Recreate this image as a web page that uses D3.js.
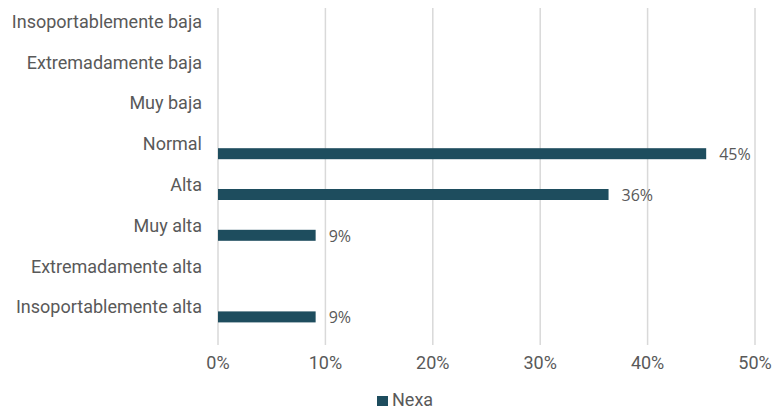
<!DOCTYPE html>
<html>
<head>
<meta charset="utf-8">
<script src="https://cdn.jsdelivr.net/npm/d3@7"></script>
<style>
  body { margin: 0; background: #fff; }
  svg text { font-family: Roboto, "Noto Sans", sans-serif; fill: #595959; }
</style>
</head>
<body>
<svg width="772" height="412"></svg>
<script>
// data ======================================================
var categories = ["Insoportablemente baja", "Extremadamente baja", "Muy baja", "Normal",
                  "Alta", "Muy alta", "Extremadamente alta", "Insoportablemente alta"];
var nexa = [0, 0, 0, 5 / 11, 4 / 11, 1 / 11, 0, 1 / 11];
var ticks = [0, 0.1, 0.2, 0.3, 0.4, 0.5];
var seriesName = "Nexa";

var barColor = "#1e4d5e";

var svg = d3.select("svg");

var x = d3.scaleLinear().domain([0, 0.5]).range([218, 755]);
var y = d3.scaleBand().domain(categories).range([0.9, 327.3]);
var mid = function(c) { return y(c) + y.bandwidth() / 2; };

// grid lines
svg.append("g").selectAll("line")
  .data(ticks)
  .enter().append("line")
    .attr("x1", function(d) { return x(d); })
    .attr("x2", function(d) { return x(d); })
    .attr("y1", 8).attr("y2", 345)
    .attr("stroke", "#d9d9d9")
    .attr("stroke-width", 1.5);

// tick labels
svg.append("g").selectAll("text")
  .data(ticks)
  .enter().append("text")
    .attr("x", function(d) { return x(d); })
    .attr("y", 369)
    .attr("text-anchor", "middle")
    .style("font-size", "18px")
    .text(d3.format(".0%"));

// category labels
svg.append("g").selectAll("text")
  .data(categories)
  .enter().append("text")
    .attr("x", 202)
    .attr("y", function(d) { return mid(d) + 6.4; })
    .attr("text-anchor", "end")
    .style("font-size", "18px")
    .text(function(d) { return d; });

// bars
var rows = categories.map(function(c, i) { return { cat: c, v: nexa[i] }; });
svg.append("g").selectAll("rect")
  .data(rows.filter(function(d) { return d.v > 0; }))
  .enter().append("rect")
    .attr("x", x(0))
    .attr("y", function(d) { return mid(d.cat) + 4.5; })
    .attr("width", function(d) { return x(d.v) - x(0); })
    .attr("height", 11)
    .attr("fill", barColor);

// data labels
svg.append("g").selectAll("text")
  .data(rows.filter(function(d) { return d.v > 0; }))
  .enter().append("text")
    .attr("x", function(d) { return x(d.v) + 13; })
    .attr("y", function(d) { return mid(d.cat) + 16.5; })
    .style("font-family", "'Open Sans', sans-serif")
    .style("font-size", "16px")
    .text(function(d) { return d3.format(".0%")(d.v); });

// legend
var lg = svg.append("g");
lg.append("rect")
  .attr("x", 377).attr("y", 396).attr("width", 11).attr("height", 10)
  .attr("fill", barColor);
lg.append("text")
  .attr("x", 392).attr("y", 406)
  .style("font-size", "18px")
  .text(seriesName);
</script>
</body>
</html>
